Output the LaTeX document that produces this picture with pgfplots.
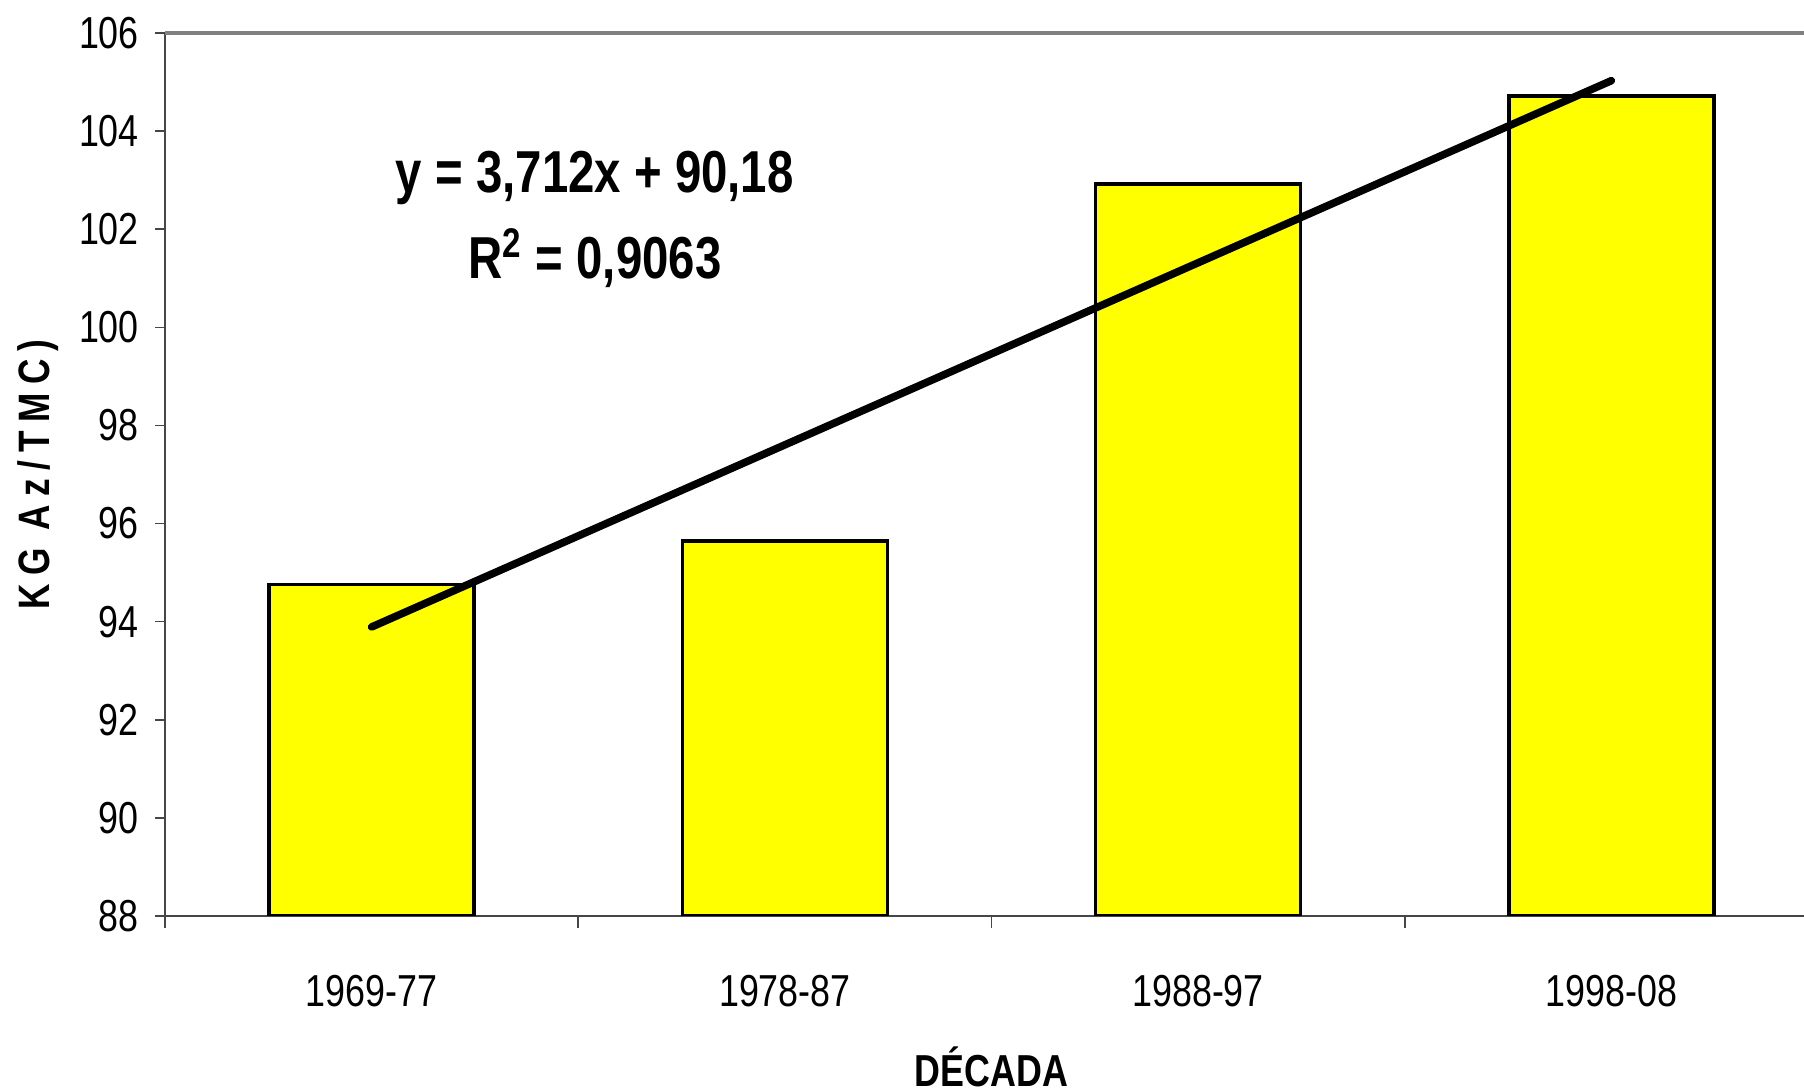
\documentclass[border=0pt]{standalone}
\usepackage{pgfplots}
\pgfplotsset{compat=1.18}
\usepackage{fontspec}
\setmainfont[FakeStretch=0.8]{Liberation Sans}
\definecolor{baryellow}{RGB}{255,255,0}
\definecolor{framegray}{RGB}{128,128,128}
\definecolor{axisgray}{RGB}{70,70,70}
\begin{document}
\begin{tikzpicture}
\begin{axis}[
  scale only axis,
  width=413.25pt, height=220.75pt,
  xmin=-0.5, xmax=3.5,
  ymin=88, ymax=106,
  ytick={88,90,...,106},
  xtick={0,1,2,3},
  xticklabels={1969-77,1978-87,1988-97,1998-08},
  minor xtick={-0.5,0.5,1.5,2.5},
  axis x line*=bottom,
  axis y line*=left,
  axis line style={axisgray, line width=0.6pt},
  x axis line style={-},
  y axis line style={-},
  tick align=outside,
  major tick length=2.5pt,
  minor tick length=3pt,
  major x tick style={draw=none},
  minor x tick style={draw=axisgray, line width=0.4pt},
  ytick style={axisgray, line width=0.4pt},
  tick label style={font=\fontsize{11.2}{13}\selectfont},
  /pgf/number format/assume math mode=true,
  xticklabel style={anchor=base, yshift=-20.25pt},
  yticklabel style={xshift=-0.5pt},
  ybar, bar width=0.496,
  clip mode=individual,
]
\addplot[fill=baryellow, draw=black, line width=0.9pt] coordinates {(0,94.76) (1,95.65) (2,102.92) (3,104.71)};
\addplot[sharp plot, draw=black, line width=1.9pt, line cap=round] coordinates {(0,93.892) (3,105.028)};
\draw[framegray, line width=0.9pt] (rel axis cs:0,1) -- (rel axis cs:1,1);
\node[align=center, font=\bfseries\fontsize{14.8}{21.5}\selectfont] at (axis cs:0.54,102.2) {y = 3,712x + 90,18\\R\textsuperscript{2} = 0,9063};
\node[font=\bfseries\fontsize{11.2}{13}\selectfont] at ([yshift=-37.6pt]axis cs:1.5,88) {DÉCADA};
\node[rotate=90, font=\bfseries\fontsize{11}{13}\selectfont\addfontfeature{LetterSpace=19}] at ([xshift=-31.75pt]rel axis cs:0,0.5) {KG Az/TMC)};
\end{axis}
\pgfresetboundingbox
\path[use as bounding box] (-41.25pt,-43.5pt) rectangle (409.75pt,229pt);
\end{tikzpicture}
\end{document}
